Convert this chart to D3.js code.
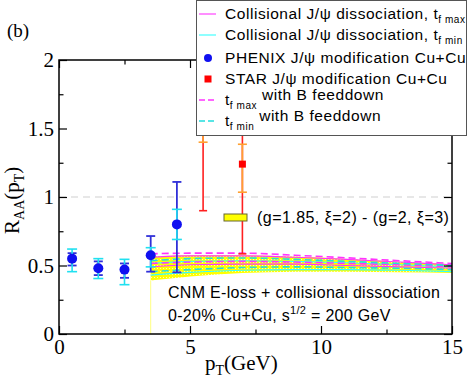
<!DOCTYPE html>
<html>
<head>
<meta charset="utf-8">
<script src="https://cdn.jsdelivr.net/npm/d3@7"></script>
<style>
  body { margin: 0; background: #fff; }
</style>
</head>
<body>
<div id="chart"></div>
<script>
// axis ticks
const xTicks = [0, 5, 10, 15];
const xMinor = [2.5, 7.5, 12.5];
const yTicks = [0, 0.5, 1, 1.5, 2];
const yMinor = [0.25, 0.75, 1.25, 1.75];

// PHENIX J/psi Cu+Cu
const phenixPt = [0.5, 1.5, 2.5, 3.5, 4.5];
const phenixR = [0.55, 0.48, 0.47, 0.575, 0.80];
const phenixStatLo = [0.50, 0.43, 0.41, 0.455, 0.45];
const phenixStatHi = [0.59, 0.53, 0.515, 0.715, 1.11];
const phenixSysLo = [0.455, 0.405, 0.36, 0.49, 0.69];
const phenixSysHi = [0.62, 0.55, 0.545, 0.63, 0.91];

// STAR J/psi Cu+Cu
const starPt = [5.5, 7.0];
const starR = [1.65, 1.24];
const starStatLo = [0.90, 0.585];
const starStatHi = [2.4, 1.9];
const starSysLo = [1.40, 1.035];
const starSysHi = [1.9, 1.385];

// theory curves
const curvePt = [3.5, 5, 7, 9, 11, 13, 15];
const bandHi = [0.565, 0.575, 0.575, 0.565, 0.548, 0.528, 0.51];
const bandLo = [0.39, 0.42, 0.445, 0.455, 0.455, 0.45, 0.445];
const magDashHi = [0.585, 0.59, 0.59, 0.575, 0.556, 0.535, 0.515];
const magSolidHi = [0.56, 0.57, 0.57, 0.56, 0.545, 0.525, 0.505];
const cyanDashHi = [0.535, 0.55, 0.555, 0.545, 0.53, 0.515, 0.50];
const cyanSolidHi = [0.515, 0.53, 0.535, 0.53, 0.52, 0.505, 0.49];
const magDashLo = [0.515, 0.525, 0.53, 0.525, 0.515, 0.505, 0.49];
const magSolidLo = [0.49, 0.505, 0.51, 0.51, 0.50, 0.49, 0.48];
const cyanDashLo = [0.455, 0.47, 0.485, 0.49, 0.485, 0.48, 0.47];
const cyanSolidLo = [0.43, 0.45, 0.465, 0.47, 0.47, 0.465, 0.455];

const width = 468, height = 383;
const serif = "'Liberation Serif', 'Times New Roman', serif";
const sans = "'Liberation Sans', Arial, Helvetica, sans-serif";

const svg = d3.select("#chart").append("svg")
  .attr("width", width)
  .attr("height", height);

const x = d3.scaleLinear().domain([0, 15]).range([59, 452]);
const y = d3.scaleLinear().domain([0, 2]).range([334, 60]);

// dotted yellow fill for the band
const pat = svg.append("defs").append("pattern")
  .attr("id", "dots").attr("width", 3).attr("height", 3)
  .attr("patternUnits", "userSpaceOnUse");
pat.append("rect").attr("width", 3).attr("height", 3).attr("fill", "#ffff00");
pat.append("rect").attr("x", 1).attr("y", 1).attr("width", 1).attr("height", 1).attr("fill", "#ffffb0");

// reference line at 1
svg.append("line")
  .attr("x1", x(0)).attr("x2", x(15))
  .attr("y1", y(1)).attr("y2", y(1))
  .attr("stroke", "#d0d0d0").attr("stroke-width", 1.2)
  .attr("stroke-dasharray", "7,5");

// band
const area = d3.area()
  .x((d, i) => x(curvePt[i]))
  .y0((d, i) => y(bandLo[i]))
  .y1((d, i) => y(bandHi[i]))
  .curve(d3.curveMonotoneX);
svg.append("path").datum(curvePt).attr("d", area).attr("fill", "url(#dots)");

svg.append("line")
  .attr("x1", x(curvePt[0])).attr("x2", x(curvePt[0]))
  .attr("y1", y(0)).attr("y2", y(bandLo[0]))
  .attr("stroke", "#ffff80").attr("stroke-width", 1);

const line = d3.line()
  .x((d, i) => x(curvePt[i]))
  .y(d => y(d))
  .curve(d3.curveMonotoneX);

const curves = [
  { v: cyanSolidLo, c: "#33ffff", dash: null },
  { v: magSolidLo, c: "#ff33ff", dash: null },
  { v: cyanSolidHi, c: "#33ffff", dash: null },
  { v: magSolidHi, c: "#ff33ff", dash: null },
  { v: cyanDashLo, c: "#22dddd", dash: "7,4" },
  { v: magDashLo, c: "#ff33ff", dash: "7,4" },
  { v: cyanDashHi, c: "#22dddd", dash: "7,4" },
  { v: magDashHi, c: "#ff33ff", dash: "7,4" }
];
curves.forEach(cv => {
  svg.append("path").datum(cv.v).attr("d", line)
    .attr("fill", "none").attr("stroke", cv.c)
    .attr("stroke-width", cv.dash ? 1.6 : 1.1)
    .attr("stroke-dasharray", cv.dash);
});

// error bar helper
function errBars(pts, lo, hi, color, cap, w) {
  const g = svg.append("g").attr("stroke", color).attr("stroke-width", w);
  pts.forEach((p, i) => {
    g.append("line").attr("x1", x(p)).attr("x2", x(p)).attr("y1", y(lo[i])).attr("y2", y(hi[i]));
    [lo[i], hi[i]].forEach(v => {
      g.append("line").attr("x1", x(p) - cap).attr("x2", x(p) + cap).attr("y1", y(v)).attr("y2", y(v));
    });
  });
}

errBars(starPt, starStatLo, starStatHi, "#ff2020", 4, 1.6);
errBars(starPt, starSysLo, starSysHi, "#ffa030", 4.5, 1.6);
svg.append("g").selectAll("rect").data(starPt).join("rect")
  .attr("x", d => x(d) - 3.5).attr("y", (d, i) => y(starR[i]) - 3.5)
  .attr("width", 7).attr("height", 7).attr("fill", "#ff0000");

errBars(phenixPt, phenixStatLo, phenixStatHi, "#3030d8", 4.5, 1.8);
errBars(phenixPt, phenixSysLo, phenixSysHi, "#20e0f0", 5, 1.6);
svg.append("g").selectAll("circle").data(phenixPt).join("circle")
  .attr("cx", d => x(d)).attr("cy", (d, i) => y(phenixR[i]))
  .attr("r", 5).attr("fill", "#1010f0");

// axes
function styleAxis(g) {
  g.select(".domain").remove();
  g.selectAll(".tick line").attr("stroke", "#000").attr("stroke-width", 1.2);
  g.selectAll("text").attr("font-family", serif).attr("font-size", 21).attr("fill", "#000");
}
svg.append("g").attr("transform", `translate(0,${y(0)})`)
  .call(d3.axisBottom(x).tickValues(xTicks).tickSize(-8).tickPadding(5).tickFormat(d3.format("d")))
  .call(styleAxis);
svg.append("g").attr("transform", `translate(0,${y(0)})`)
  .call(d3.axisBottom(x).tickValues(xMinor).tickSize(-4.5).tickFormat(""))
  .call(styleAxis);
svg.append("g").attr("transform", `translate(0,${y(2)})`)
  .call(d3.axisTop(x).tickValues(xTicks).tickSize(-8).tickFormat(""))
  .call(styleAxis);
svg.append("g").attr("transform", `translate(0,${y(2)})`)
  .call(d3.axisTop(x).tickValues(xMinor).tickSize(-4.5).tickFormat(""))
  .call(styleAxis);
svg.append("g").attr("transform", `translate(${x(0)},0)`)
  .call(d3.axisLeft(y).tickValues(yTicks).tickSize(-8).tickPadding(5).tickFormat(d => d))
  .call(styleAxis);
svg.append("g").attr("transform", `translate(${x(0)},0)`)
  .call(d3.axisLeft(y).tickValues(yMinor).tickSize(-4.5).tickFormat(""))
  .call(styleAxis);
svg.append("g").attr("transform", `translate(${x(15)},0)`)
  .call(d3.axisRight(y).tickValues(yTicks).tickSize(-8).tickFormat(""))
  .call(styleAxis);
svg.append("g").attr("transform", `translate(${x(15)},0)`)
  .call(d3.axisRight(y).tickValues(yMinor).tickSize(-4.5).tickFormat(""))
  .call(styleAxis);

svg.append("rect")
  .attr("x", x(0)).attr("y", y(2))
  .attr("width", x(15) - x(0)).attr("height", y(0) - y(2))
  .attr("fill", "none").attr("stroke", "#000").attr("stroke-width", 1.5);

// axis titles
const xt = svg.append("text").attr("x", 205).attr("y", 370)
  .attr("font-family", serif).attr("font-size", 21);
xt.append("tspan").text("p");
xt.append("tspan").attr("dy", 5).attr("font-size", 14).text("T");
xt.append("tspan").attr("dy", -5).text("(GeV)");

const yt = svg.append("text").attr("transform", "translate(19,234) rotate(-90)")
  .attr("font-family", serif).attr("font-size", 21);
yt.append("tspan").text("R");
yt.append("tspan").attr("dy", 5).attr("font-size", 14).text("AA");
yt.append("tspan").attr("dy", -5).text("(p");
yt.append("tspan").attr("dy", 5).attr("font-size", 14).text("T");
yt.append("tspan").attr("dy", -5).text(")");

svg.append("text").attr("x", 7).attr("y", 37)
  .attr("font-family", serif).attr("font-size", 19).text("(b)");

// annotations
svg.append("rect").attr("x", 224).attr("y", 214).attr("width", 23).attr("height", 7)
  .attr("fill", "#ffff00").attr("stroke", "#666633").attr("stroke-width", 1);
svg.append("text").attr("x", 257).attr("y", 223)
  .attr("font-family", sans).attr("font-size", 16).attr("letter-spacing", 0.45)
  .text("(g=1.85, \u03BE=2) - (g=2, \u03BE=3)");

svg.append("text").attr("x", 168).attr("y", 298)
  .attr("font-family", sans).attr("font-size", 16).attr("letter-spacing", 0.3)
  .text("CNM E-loss + collisional dissociation");
const t2 = svg.append("text").attr("x", 168).attr("y", 321)
  .attr("font-family", sans).attr("font-size", 16).attr("letter-spacing", 0.3);
t2.append("tspan").text("0-20% Cu+Cu, s");
t2.append("tspan").attr("dy", -7).attr("font-size", 11).text("1/2");
t2.append("tspan").attr("dy", 7).text(" = 200 GeV");

// legend
const lg = svg.append("g");
lg.append("rect").attr("x", 196.5).attr("y", 0.5).attr("width", 270).attr("height", 135)
  .attr("fill", "#fff").attr("stroke", "#555").attr("stroke-width", 1);
const rowY = [14, 35, 58, 79, 100, 121];
const lx = 225;
const fs = 15.5;
function lgText(i) {
  return lg.append("text").attr("x", lx).attr("y", rowY[i] + 5)
    .attr("font-family", sans).attr("font-size", fs).attr("letter-spacing", 0.55);
}
lg.append("line").attr("x1", 199).attr("x2", 216).attr("y1", rowY[0]).attr("y2", rowY[0])
  .attr("stroke", "#ff33ff").attr("stroke-width", 1.1);
let t = lgText(0);
t.append("tspan").text("Collisional J/\u03C8 dissociation, t");
t.append("tspan").attr("dy", 4).attr("font-size", 10).text("f max");

lg.append("line").attr("x1", 199).attr("x2", 216).attr("y1", rowY[1]).attr("y2", rowY[1])
  .attr("stroke", "#33ffff").attr("stroke-width", 1.1);
t = lgText(1);
t.append("tspan").text("Collisional J/\u03C8 dissociation, t");
t.append("tspan").attr("dy", 4).attr("font-size", 10).text("f min");

lg.append("circle").attr("cx", 208).attr("cy", rowY[2]).attr("r", 4).attr("fill", "#1010f0");
lgText(2).text("PHENIX J/\u03C8 modification Cu+Cu");

lg.append("rect").attr("x", 204.5).attr("y", rowY[3] - 3.5).attr("width", 7).attr("height", 7).attr("fill", "#ff0000");
lgText(3).text("STAR J/\u03C8 modification Cu+Cu");

lg.append("line").attr("x1", 199).attr("x2", 216).attr("y1", rowY[4]).attr("y2", rowY[4])
  .attr("stroke", "#ff33ff").attr("stroke-width", 1.6).attr("stroke-dasharray", "6,3");
t = lgText(4);
t.append("tspan").text("t");
t.append("tspan").attr("dy", 4).attr("font-size", 10).text("f max");
t.append("tspan").attr("dy", -9).text(" with B feeddown");

lg.append("line").attr("x1", 199).attr("x2", 216).attr("y1", rowY[5]).attr("y2", rowY[5])
  .attr("stroke", "#22dddd").attr("stroke-width", 1.6).attr("stroke-dasharray", "6,3");
t = lgText(5);
t.append("tspan").text("t");
t.append("tspan").attr("dy", 4).attr("font-size", 10).text("f min");
t.append("tspan").attr("dy", -9).text(" with B feeddown");
</script>
</body>
</html>
